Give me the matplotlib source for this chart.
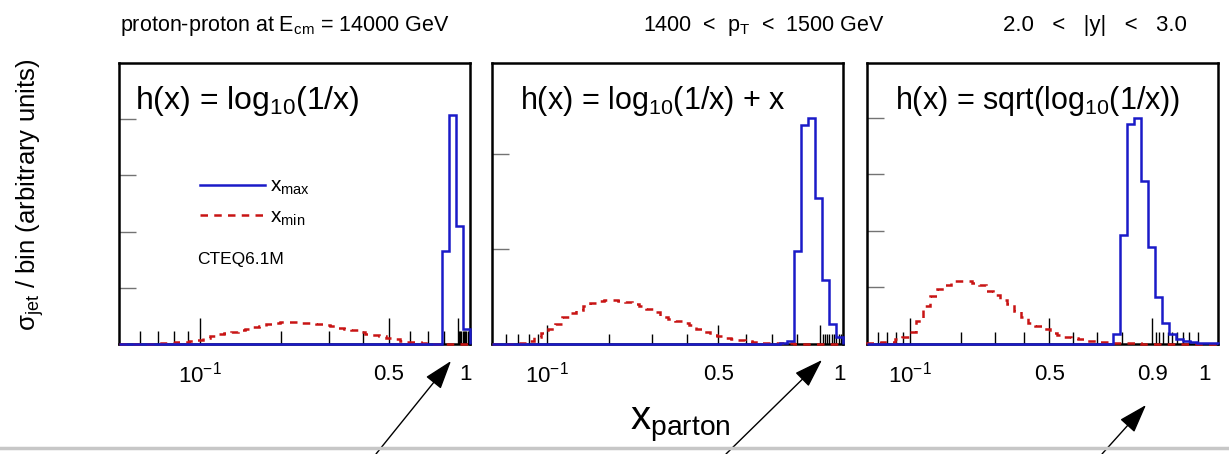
import numpy as np
import matplotlib
matplotlib.use('Agg')
import matplotlib.pyplot as plt
from matplotlib.lines import Line2D

plt.rcParams['font.family'] = ['Liberation Sans', 'DejaVu Sans']
plt.rcParams['mathtext.fontset'] = 'custom'
plt.rcParams['mathtext.rm'] = 'Liberation Sans'
plt.rcParams['mathtext.it'] = 'Liberation Sans'
plt.rcParams['mathtext.default'] = 'regular'

# panel titles (binning variable h(x))
titles = [r'h(x) = log$_{10}$(1/x)', r'h(x) = log$_{10}$(1/x) + x',
          r'h(x) = sqrt(log$_{10}$(1/x))']
title_size = [23, 22, 22]

# 50 bins, uniform in h(x), from x = 0.05 to x = 1 (left to right)
xmax_1 = [0] * 46 + [1.65, 4.07, 2.10, 0.26]
xmin_1 = [0, 0, 0, 0, 0.004, 0.007, 0.011, 0.018, 0.027, 0.036,
          0.055, 0.077, 0.11, 0.148, 0.175, 0.20, 0.22, 0.243, 0.27, 0.30,
          0.325, 0.35, 0.37, 0.383, 0.386, 0.386, 0.382, 0.374, 0.356, 0.338,
          0.315, 0.29, 0.265, 0.243, 0.212, 0.184, 0.165, 0.148, 0.115, 0.083,
          0.06, 0.042, 0.028, 0.018, 0.008, 0.004, 0.002, 0.001, 0, 0]

xmax_2 = [0] * 41 + [0.01, 0.03, 0.98, 2.31, 2.38, 1.54, 0.67, 0.21, 0.074]
xmin_2 = [0, 0, 0.002, 0.005, 0.015, 0.035, 0.077, 0.12, 0.16, 0.207,
          0.288, 0.325, 0.358, 0.40, 0.43, 0.455, 0.462, 0.46, 0.452, 0.44,
          0.42, 0.396, 0.37, 0.34, 0.288, 0.265, 0.242, 0.22, 0.2, 0.16,
          0.125, 0.10, 0.082, 0.067, 0.052, 0.042, 0.03, 0.021, 0.015, 0.01,
          0.008, 0.007, 0.006, 0.005, 0.004, 0.003, 0.002, 0.002, 0.001, 0]

xmax_3 = [0] * 35 + [0.17, 1.93, 3.89, 4.0, 2.89, 1.71, 0.84, 0.38, 0.18,
                     0.09, 0.05, 0.03, 0.02, 0.01, 0.01]
xmin_3 = [0.01, 0.02, 0.03, 0.04, 0.08, 0.12, 0.22, 0.40, 0.68, 0.85,
          0.97, 1.05, 1.11, 1.12, 1.12, 1.08, 1.04, 0.94, 0.86, 0.77,
          0.70, 0.58, 0.48, 0.38, 0.32, 0.26, 0.20, 0.16, 0.13, 0.11,
          0.08, 0.055, 0.05, 0.04, 0.03, 0.02, 0.015, 0.012, 0.01, 0.008,
          0.008, 0.007, 0.006, 0.006, 0.005, 0.005, 0.004, 0.004, 0.003, 0.003]

major_x = [0.1, 0.5, 0.9]
minor_x = [0.06, 0.07, 0.08, 0.09, 0.2, 0.3, 0.4, 0.6, 0.7, 0.8,
           0.91, 0.92, 0.93, 0.94, 0.95, 0.96, 0.97, 0.98, 0.99]
label_x = [[0.1, 0.5], [0.1, 0.5], [0.1, 0.5, 0.9]]
label_txt = [[r'10$^{-1}$', '0.5'], [r'10$^{-1}$', '0.5'], [r'10$^{-1}$', '0.5', '0.9']]
one_pos = [0.986, 0.989, 0.962]

ytop = [5.0, 2.96, 4.97]
yticks = [[1, 2, 3, 4], [1, 2], [1, 2, 3, 4]]
tick_len = [(19, 9.5), (14, 7.2), (19, 9)]


# axis coordinate = -h(x), so x grows to the right
def u1(x):
    return np.log10(x)


def u2(x):
    return np.log10(x) + x


def u3(x):
    return -np.sqrt(-np.log10(x))


ufuncs = [u1, u2, u3]
data = [(xmax_1, xmin_1), (xmax_2, xmin_2), (xmax_3, xmin_3)]

blue = '#1a1ac8'
red = '#c81414'

fig = plt.figure(figsize=(12.29, 4.54), dpi=100)
lefts = [119, 492, 867]
axes = []
for i in range(3):
    ax = fig.add_axes([lefts[i] / 1229, 110 / 454, 351 / 1229, 281 / 454])
    u = ufuncs[i]
    edges = np.linspace(u(0.05), u(1.0), 51)
    vmax, vmin = data[i]
    ax.stairs(vmin, edges, color=red, lw=1.8, linestyle=(0, (3, 2.5)), clip_on=False, zorder=3)
    ax.stairs(vmax, edges, color=blue, lw=1.8, clip_on=False, zorder=4)
    ax.set_xlim(u(0.05), u(1.0))
    ax.set_ylim(0, ytop[i])

    ax.set_xticks(u(np.array(major_x)))
    ax.set_xticks(u(np.array(minor_x)), minor=True)
    ax.set_yticks(yticks[i])
    ax.set_xticklabels([])
    ax.set_yticklabels([])
    ax.tick_params(axis='x', which='major', direction='in', length=tick_len[i][0], width=1, color='k')
    ax.tick_params(axis='x', which='minor', direction='in', length=tick_len[i][1], width=1, color='k')
    ax.tick_params(axis='y', which='major', direction='in', length=12, width=1, color='0.45')
    for s in ax.spines.values():
        s.set_linewidth(1.8)

    tr = ax.get_xaxis_transform()
    for xv, t in zip(label_x[i], label_txt[i]):
        ax.text(u(xv), -0.11, t, transform=tr, ha='center', va='center', fontsize=16)
    ax.text(one_pos[i], -0.11, '1', transform=ax.transAxes, ha='center', va='center', fontsize=16)

    ax.text(0.045 if i == 0 else 0.08, 0.865, titles[i], transform=ax.transAxes,
            ha='left', va='center', fontsize=title_size[i])
    axes.append(ax)

# legend and PDF label in the first panel
handles = [Line2D([], [], color=blue, lw=1.8),
           Line2D([], [], color=red, lw=1.8, linestyle=(0, (3, 2.5)))]
axes[0].legend(handles, [r'x$_{max}$', r'x$_{min}$'], loc='upper left',
               bbox_to_anchor=(0.232, 0.595), frameon=False, fontsize=15,
               handlelength=3.1, handletextpad=0.25, labelspacing=0.5,
               borderpad=0, borderaxespad=0)
axes[0].text(0.222, 0.299, 'CTEQ6.1M', transform=axes[0].transAxes,
             ha='left', va='center', fontsize=12.5)

# header
fig.text(120 / 1229, 0.943, r'proton-proton at E$_{cm}$ = 14000 GeV', fontsize=15.5, va='center')
fig.text(643 / 1229, 0.943, r'1400  <  p$_T$  <  1500 GeV', fontsize=15.5, va='center')
fig.text(1003 / 1229, 0.943, '2.0   <   |y|   <   3.0', fontsize=16, va='center')

# axis titles
fig.text(30 / 1229, (454 - 195) / 454, r'σ$_{jet}$ / bin (arbitrary units)',
         rotation=90, ha='center', va='center', fontsize=18.5)
fig.text(680 / 1229, (454 - 425) / 454, r'x$_{parton}$', ha='center', va='center', fontsize=29)

# slide decoration: grey rule and arrows
fig.add_artist(Line2D([0, 1], [6 / 454, 6 / 454], transform=fig.transFigure, color='0.78', lw=2.5))
arrows = [((451, 93), (376, 0)), ((822, 94), (726, 0)), ((1146, 49), (1102, 0))]
for tip, tail in arrows:
    axes[0].annotate('', xy=tip, xytext=tail, xycoords='figure pixels', textcoords='figure pixels',
                     arrowprops=dict(arrowstyle='-|>,head_length=0.9,head_width=0.3',
                                     color='k', lw=1, mutation_scale=20, shrinkA=0, shrinkB=0),
                     annotation_clip=False)

fig.savefig('out.png', dpi=100)
